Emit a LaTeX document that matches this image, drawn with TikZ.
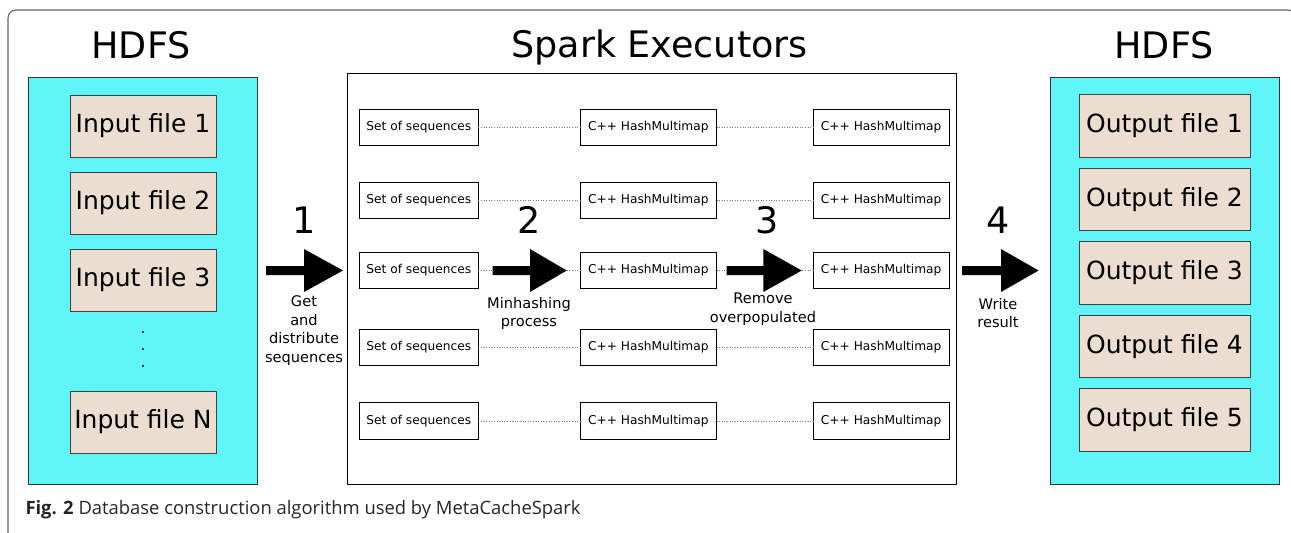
\documentclass[tikz,border=0pt]{standalone}
\usepackage{fontspec}
\setmainfont{DejaVu Sans}
\newfontfamily\capfont{Open Sans}
\begin{document}
\begin{tikzpicture}[x=1pt,y=-1pt,
  every node/.style={inner sep=0pt,outer sep=0pt},
  bigtitle/.style={font=\fontsize{36.5}{40}\selectfont,anchor=base},
  stepnum/.style={font=\fontsize{36.5}{40}\selectfont,anchor=base},
  steplabel/.style={font=\fontsize{14.6}{18.5}\selectfont,align=center,anchor=north},
  store/.style={draw=black!80,line width=0.9pt,fill=cyanfill,minimum width=229pt,minimum height=406.5pt},
  filebox/.style={draw=black!75,line width=0.9pt,fill=beige,font=\fontsize{25}{30}\selectfont},
  inbox/.style={filebox,minimum width=146pt,minimum height=62pt},
  outbox/.style={filebox,minimum width=171pt,minimum height=62.5pt},
  executor/.style={draw=black,line width=0.9pt,fill=white,minimum width=608.7pt,minimum height=410.5pt},
  seqbox/.style={draw=black,line width=0.8pt,fill=white,minimum height=36.3pt,font=\fontsize{12.2}{14}\selectfont},
  setbox/.style={seqbox,minimum width=119pt},
  mapbox/.style={seqbox,minimum width=136.5pt},
  link/.style={draw=black!55,line width=0.6pt,dotted},
  blockarrow/.style={fill=black},
  frameline/.style={draw=black!60,line width=1.1pt,rounded corners=8pt}
]
\definecolor{cyanfill}{RGB}{95,245,249}
\definecolor{beige}{RGB}{235,221,208}
\useasboundingbox (0,0) rectangle (1291,533);
\begin{scope}
\clip (0,0) rectangle (1291,533);
\draw[frameline] (8,560) -- (8,10) -- (1296,10) -- (1296,560);
\end{scope}

% titles
\node[bigtitle] (tHL) at (141,58.5) {HDFS};
\node[bigtitle] (tSE) at (659.5,57) {Spark Executors};
\node[bigtitle] (tHR) at (1164,58.5) {HDFS};

% left storage
\node[store] (inStore) at (142.6,280.75) {};
\node[inbox] (in1) at (143,126) {Input file 1};
\node[inbox] (in2) at (143,203) {Input file 2};
\node[inbox] (in3) at (143,280) {Input file 3};
\node[inbox] (inN) at (143,422) {Input file N};
\fill (143,332) circle (1.1pt);
\fill (143,349) circle (1.1pt);
\fill (143,366) circle (1.1pt);

% right storage
\node[store] (outStore) at (1164.6,280.75) {};
\node[outbox] (out1) at (1164.5,125.75) {Output file 1};
\node[outbox] (out2) at (1164.5,199.25) {Output file 2};
\node[outbox] (out3) at (1164.5,273) {Output file 3};
\node[outbox] (out4) at (1164.5,346.5) {Output file 4};
\node[outbox] (out5) at (1164.5,420) {Output file 5};

% executors
\node[executor] (exec) at (651.65,279) {};
\foreach \r/\y in {1/127.2,2/200.3,3/270.5,4/347.2,5/421} {
  \node[setbox] (s\r) at (418.8,\y) {Set of sequences};
  \node[mapbox] (m\r) at (648.3,\y) {C++ HashMultimap};
  \node[mapbox] (r\r) at (881.2,\y) {C++ HashMultimap};
  \draw[link] (s\r.east) -- (m\r.west);
  \draw[link] (m\r.east) -- (r\r.west);
}

% block arrows
\newcommand\barrow[3]{%
  \fill[blockarrow] (#1,266) -- (#2,266) -- (#2,249) -- (#3,270.5) -- (#2,292) -- (#2,275) -- (#1,275) -- cycle;}
\barrow{266}{304}{343}
\barrow{492.7}{530}{566.7}
\barrow{726.7}{763.3}{801.7}
\barrow{962}{1001}{1038.6}

% step numbers and labels
\node[stepnum] (n1) at (304,233) {1};
\node[stepnum] (n2) at (529,233) {2};
\node[stepnum] (n3) at (767,233) {3};
\node[stepnum] (n4) at (998,233) {4};
\node[steplabel] (l1) at (304,296) {Get\\and\\distribute\\sequences};
\node[steplabel] (l2) at (529,297) {Minhashing\\process};
\node[steplabel] (l3) at (763,293) {Remove\\overpopulated};
\node[steplabel] (l4) at (998,298) {Write\\result};

% caption
\node[anchor=base west,font=\capfont\fontsize{18.4}{22}\selectfont,text=black!85] (cap) at (25.5,514) {\textbf{Fig. 2} Database construction algorithm used by MetaCacheSpark};
\end{tikzpicture}
\end{document}
